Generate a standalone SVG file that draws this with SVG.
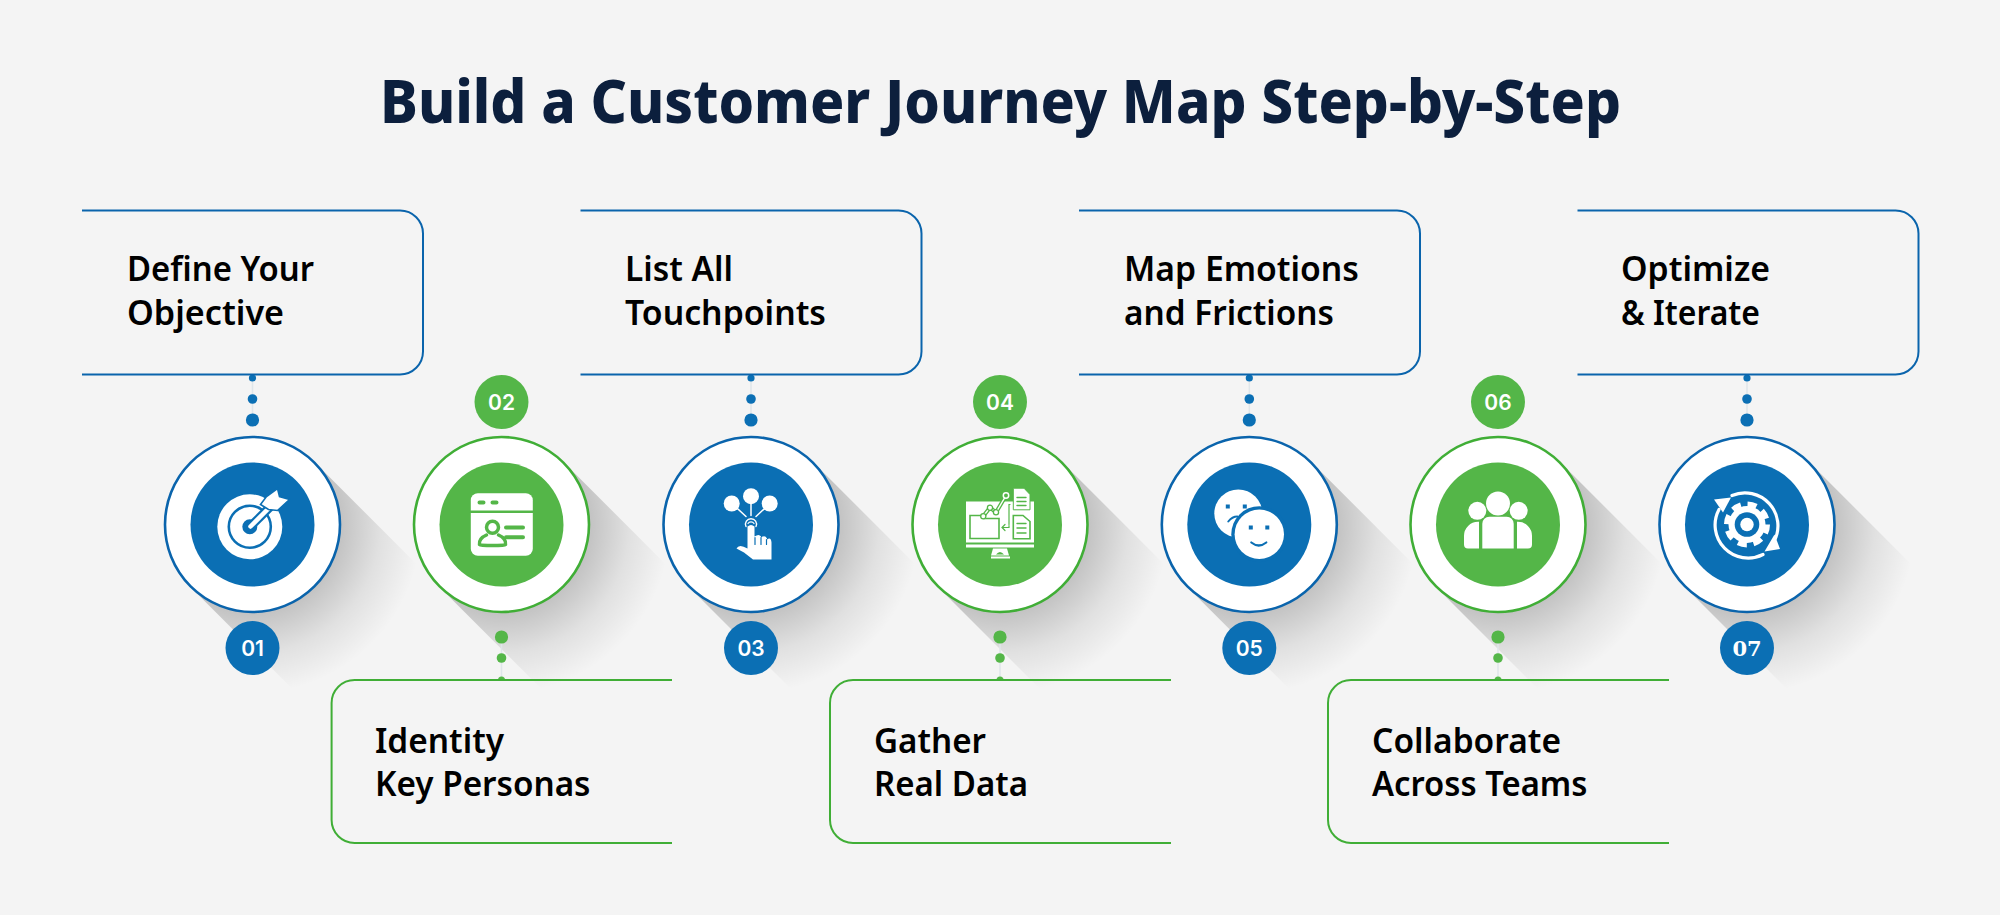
<svg xmlns="http://www.w3.org/2000/svg" xmlns:xlink="http://www.w3.org/1999/xlink" width="2000" height="915" viewBox="0 0 2000 915">
<style>
text{font-family:"Noto Sans","Open Sans","Liberation Sans",sans-serif}
.title{font-size:61px;font-weight:800;fill:#0c1f3d}
.lbl{font-size:34px;font-weight:600;fill:#000}
.num{font-size:21px;font-weight:600;fill:#fff;text-anchor:middle;font-family:"Inter","Noto Sans",sans-serif}
.bb{fill:none;stroke:#0a64ac;stroke-width:2}
.gb{fill:none;stroke:#40ae36;stroke-width:2}
.bo{fill:#fff;stroke:#0a64ac;stroke-width:2.6}
.go{fill:#fff;stroke:#40ae36;stroke-width:2.6}
.bf{fill:#0b6fb4}
.gf{fill:#54b648}
.w{fill:#fff}
.ws{fill:none;stroke:#fff;stroke-linecap:round}
.bs{fill:none;stroke:#0b6fb4;stroke-linecap:round}
.gs{fill:none;stroke:#54b648;stroke-linecap:round}
.lk{stroke:#dfe6ea;stroke-width:1.5}
</style>
<defs>
<radialGradient id="sg" gradientUnits="userSpaceOnUse" cx="0" cy="0" r="178">
<stop offset="0.5" stop-color="#000" stop-opacity="0.2"/>
<stop offset="0.72" stop-color="#000" stop-opacity="0.08"/>
<stop offset="0.95" stop-color="#000" stop-opacity="0"/>
</radialGradient>
<rect id="sh" x="0" y="-88" width="178" height="176" fill="url(#sg)"/>
</defs>
<rect width="2000" height="915" fill="#f4f4f4"/>
<g id="shadows">
<use xlink:href="#sh" href="#sh" transform="translate(252.5 524.5) rotate(45)"/>
<use xlink:href="#sh" href="#sh" transform="translate(501.5 524.5) rotate(45)"/>
<use xlink:href="#sh" href="#sh" transform="translate(751 524.5) rotate(45)"/>
<use xlink:href="#sh" href="#sh" transform="translate(1000 524.5) rotate(45)"/>
<use xlink:href="#sh" href="#sh" transform="translate(1249.3 524.5) rotate(45)"/>
<use xlink:href="#sh" href="#sh" transform="translate(1498 524.5) rotate(45)"/>
<use xlink:href="#sh" href="#sh" transform="translate(1747 524.5) rotate(45)"/>
</g>
<text id="title" class="title" x="380" y="123" textLength="1241" lengthAdjust="spacingAndGlyphs">Build a Customer Journey Map Step-by-Step</text>
<g id="connectors">
<g class="bf">
<line class="lk" x1="252.5" y1="378" x2="252.5" y2="420"/><circle cx="252.5" cy="378" r="3.6"/><circle cx="252.5" cy="399" r="4.8"/><circle cx="252.5" cy="420" r="6.6"/>
<line class="lk" x1="751" y1="378" x2="751" y2="420"/><circle cx="751" cy="378" r="3.6"/><circle cx="751" cy="399" r="4.8"/><circle cx="751" cy="420" r="6.6"/>
<line class="lk" x1="1249.3" y1="378" x2="1249.3" y2="420"/><circle cx="1249.3" cy="378" r="3.6"/><circle cx="1249.3" cy="399" r="4.8"/><circle cx="1249.3" cy="420" r="6.6"/>
<line class="lk" x1="1747" y1="378" x2="1747" y2="420"/><circle cx="1747" cy="378" r="3.6"/><circle cx="1747" cy="399" r="4.8"/><circle cx="1747" cy="420" r="6.6"/>
</g>
<g class="gf">
<line class="lk" x1="501.5" y1="637" x2="501.5" y2="678"/><circle cx="501.5" cy="637" r="6.6"/><circle cx="501.5" cy="658" r="4.8"/><path d="M498 680a3.5 3.5 0 1 1 7 0z"/>
<line class="lk" x1="1000" y1="637" x2="1000" y2="678"/><circle cx="1000" cy="637" r="6.6"/><circle cx="1000" cy="658" r="4.8"/><path d="M996.5 680a3.5 3.5 0 1 1 7 0z"/>
<line class="lk" x1="1498" y1="637" x2="1498" y2="678"/><circle cx="1498" cy="637" r="6.6"/><circle cx="1498" cy="658" r="4.8"/><path d="M1494.5 680a3.5 3.5 0 1 1 7 0z"/>
</g>
</g>

<g id="step1">
<path class="bb" d="M82 210.5H400a23 23 0 0 1 23 23V351.5a23 23 0 0 1-23 23H82"/>
<text class="lbl" x="127" y="281" textLength="187" lengthAdjust="spacingAndGlyphs">Define Your</text>
<text class="lbl" x="127" y="325" textLength="157" lengthAdjust="spacingAndGlyphs">Objective</text>
<circle class="bo" cx="252.5" cy="524.5" r="87.500"/><circle class="bf" cx="252.5" cy="524.5" r="62"/>
<g transform="translate(252.5 524.5)">
<circle class="w" cx="-2.7" cy="2.3" r="32.5"/>
<circle class="bs" cx="-2.7" cy="2.3" r="21" stroke-width="2.6"/>
<circle class="bf" cx="-2.7" cy="2.3" r="7.5"/>
<path class="bs" d="M-2 2L22 -22" stroke-width="9"/>
<path class="ws" d="M-2 2L20 -20" stroke-width="4.5"/>
<path d="M8-20L14-28L25-36L27-28L37-25L25-14L16-15Z" fill="#fff" stroke="#0b6fb4" stroke-width="1.6"/>
</g>
<circle class="bf" cx="252.5" cy="648" r="27"/>
<text class="num" x="252.5" y="655.500">01</text>
</g>

<g id="step2">
<path class="gb" d="M672 680H354.6a23 23 0 0 0-23 23V820a23 23 0 0 0 23 23H672"/>
<text class="lbl" x="375" y="752.5" textLength="129" lengthAdjust="spacingAndGlyphs">Identity</text>
<text class="lbl" x="375" y="796" textLength="215.5" lengthAdjust="spacingAndGlyphs">Key Personas</text>
<circle class="go" cx="501.5" cy="524.5" r="87.500"/><circle class="gf" cx="501.5" cy="524.5" r="62"/>
<g transform="translate(501.5 524.5)">
<rect class="w" x="-30.7" y="-31.3" width="62" height="62.6" rx="7"/>
<path class="gs" d="M-30.7-12.7H31.3" stroke-width="2.4"/>
<path class="gs" d="M-22-22H-18M-9-22H-5M4.5 3H21.5M4.5 12.7H21.5" stroke-width="4"/>
<circle class="gs" cx="-9" cy="2.7" r="6" stroke-width="3.5"/>
<path class="gs" d="M-3 10.5Q5 14 4 20Q3 21 -9 21Q-21 21 -22 20Q-23 14 -15 10.5" stroke-width="3.5"/>
</g>
<circle class="gf" cx="501.5" cy="402" r="27"/>
<text class="num" x="501.5" y="409.500">02</text>
</g>

<g id="step3">
<path class="bb" d="M580.5 210.5H898.5a23 23 0 0 1 23 23V351.5a23 23 0 0 1-23 23H580.5"/>
<text class="lbl" x="625" y="281" textLength="108" lengthAdjust="spacingAndGlyphs">List All</text>
<text class="lbl" x="625" y="325" textLength="201" lengthAdjust="spacingAndGlyphs">Touchpoints</text>
<circle class="bo" cx="751" cy="524.5" r="87.500"/><circle class="bf" cx="751" cy="524.5" r="62"/>
<g transform="translate(751 524.5)">
<circle class="w" cx="-19.3" cy="-21" r="8"/><circle class="w" cx="0" cy="-28.3" r="8"/><circle class="w" cx="18.7" cy="-21" r="8"/>
<path class="ws" d="M-19-21L-5-8M0-28V-9M19-21L5-8" stroke-width="1.5"/>
<path class="ws" d="M-5 2A5.5 5.5 0 1 1 5 2" stroke-width="1.4"/>
<path class="ws" d="M-3-1A3.5 3.5 0 0 1 3-1" stroke-width="1.2"/>
<path class="w" d="M-3.5 2Q0-1 3.5 2V12Q8 9 10 12V13Q14 10 16 14V15Q20 12 20.5 18V35H2L-7 28L-14.5 24Q-12 19-3.5 24Z"/>
<path class="bs" d="M4 13V20M10 13V20M15.500 15V20" stroke-width="1.2"/>
</g>
<circle class="bf" cx="751" cy="648" r="27"/>
<text class="num" x="751" y="655.500">03</text>
</g>

<g id="step4">
<path class="gb" d="M1171 680H853a23 23 0 0 0-23 23V820a23 23 0 0 0 23 23H1171"/>
<text class="lbl" x="874" y="752.5" textLength="112" lengthAdjust="spacingAndGlyphs">Gather</text>
<text class="lbl" x="874" y="796" textLength="154" lengthAdjust="spacingAndGlyphs">Real Data</text>
<circle class="go" cx="1000" cy="524.5" r="87.500"/><circle class="gf" cx="1000" cy="524.5" r="62"/>
<g transform="translate(1000 524.5)">
<rect class="w" x="-34" y="-23" width="68" height="41"/>
<rect class="w" x="-34" y="20" width="68" height="3"/>
<path class="w" d="M-7 24H7L9 31H-9ZM-9 32H10V34H-9Z"/>
<path class="gf" d="M-4 30Q0 25 4 30Z"/>
<path d="M-30-9H-19L-16-6H-1V14H-30Z" fill="#fff" stroke="#54b648" stroke-width="1.6"/>
<path d="M-17-8L-10-17L-4-12L6-29" fill="none" stroke="#54b648" stroke-width="4" stroke-linecap="round" stroke-linejoin="round"/>
<path class="ws" d="M-17-8L-10-17L-4-12L6-29" stroke-width="1.400"/>
<circle cx="-16.700" cy="-8.300" r="2.600" fill="#fff" stroke="#54b648" stroke-width="1.300"/><circle cx="-10" cy="-16.700" r="2.600" fill="#fff" stroke="#54b648" stroke-width="1.300"/><circle cx="-4" cy="-12.300" r="2.600" fill="#fff" stroke="#54b648" stroke-width="1.300"/>
<circle cx="6" cy="-29" r="2.700" fill="#54b648" stroke="#fff" stroke-width="1.500"/>
<path class="gs" d="M10-20H9V0" stroke-width="1.2"/>
<path class="gs" d="M9 1V3H2M5 0L2 3L5 6" stroke-width="1.2"/>
<path d="M13.300-36.300H24L30-30V-14.700H13.300Z" fill="#fff" stroke="#54b648" stroke-width="1"/>
<path class="gs" d="M17-27H26M17-23H26M17-19H26" stroke-width="1.400"/>
<path d="M13.300-9H23L30-3V14.300H13.300Z" fill="#fff" stroke="#54b648" stroke-width="1.600"/>
<path class="gs" d="M17-1H26M17 3.500H26M17 8.500H26" stroke-width="1.400"/>
</g>
<circle class="gf" cx="1000" cy="402" r="27"/>
<text class="num" x="1000" y="409.500">04</text>
</g>

<g id="step5">
<path class="bb" d="M1079 210.5H1397a23 23 0 0 1 23 23V351.5a23 23 0 0 1-23 23H1079"/>
<text class="lbl" x="1124" y="281" textLength="235" lengthAdjust="spacingAndGlyphs">Map Emotions</text>
<text class="lbl" x="1124" y="325" textLength="210" lengthAdjust="spacingAndGlyphs">and Frictions</text>
<circle class="bo" cx="1249.3" cy="524.5" r="87.500"/><circle class="bf" cx="1249.3" cy="524.5" r="62"/>
<g transform="translate(1249.3 524.5)">
<circle class="w" cx="-11" cy="-11" r="24"/>
<circle class="bf" cx="10" cy="9.700" r="28"/>
<circle class="w" cx="10" cy="9.700" r="24.700"/>
<path class="bf" d="M-23.500-20h4v4h-4zM-6.500-20h4v4h-4zM-0.500 1h4v4h-4zM16 1h4v4h-4z"/>
<path class="bs" d="M2 18Q9.500 24 17 18" stroke-width="2.200"/>
<path class="bs" d="M-21-3Q-17-8-12-8" stroke-width="2"/>
</g>
<circle class="bf" cx="1249.3" cy="648" r="27"/>
<text class="num" x="1249.3" y="655.500">05</text>
</g>

<g id="step6">
<path class="gb" d="M1669 680H1351a23 23 0 0 0-23 23V820a23 23 0 0 0 23 23H1669"/>
<text class="lbl" x="1372" y="752.5" textLength="189" lengthAdjust="spacingAndGlyphs">Collaborate</text>
<text class="lbl" x="1372" y="796" textLength="215.5" lengthAdjust="spacingAndGlyphs">Across Teams</text>
<circle class="go" cx="1498" cy="524.5" r="87.500"/><circle class="gf" cx="1498" cy="524.5" r="62"/>
<g transform="translate(1498 524.5)">
<circle class="w" cx="0" cy="-21" r="12"/><circle class="w" cx="-20.700" cy="-13.700" r="9"/><circle class="w" cx="20.700" cy="-13.700" r="9"/>
<path class="w" d="M-15.700-0.700a7 7 0 0 1 7-7H8.700a7 7 0 0 1 7 7V24H-15.700Z"/>
<path class="w" d="M-19-2.700H-20a14 14 0 0 0-14 14V20a4 4 0 0 0 4 4H-19Z"/>
<path class="w" d="M19-2.700H20a14 14 0 0 1 14 14V20a4 4 0 0 1-4 4H19Z"/>
</g>
<circle class="gf" cx="1498" cy="402" r="27"/>
<text class="num" x="1498" y="409.500">06</text>
</g>

<g id="step7">
<path class="bb" d="M1577.500 210.500H1895.500a23 23 0 0 1 23 23V351.500a23 23 0 0 1-23 23H1577.500"/>
<text class="lbl" x="1621" y="281" textLength="149" lengthAdjust="spacingAndGlyphs">Optimize</text>
<text class="lbl" x="1621" y="325" textLength="139" lengthAdjust="spacingAndGlyphs">&amp; Iterate</text>
<circle class="bo" cx="1747" cy="524.5" r="87.500"/><circle class="bf" cx="1747" cy="524.5" r="62"/>
<g transform="translate(1747 524.5)">
<circle class="w" cx="0" cy="0" r="18.500"/>
<circle cx="0" cy="0" r="20" fill="none" stroke="#fff" stroke-width="6" stroke-dasharray="9 6.700"/>
<circle class="bf" cx="0" cy="0" r="12.300"/><circle class="w" cx="0" cy="0" r="6.700"/>
<path class="ws" d="M-15-29A33 33 0 0 1 27 17" stroke-width="3.200" stroke-linecap="butt"/>
<path class="w" d="M17.500 27L33 24.500L27.500 10Z"/>
<path class="ws" d="M16 30A33 33 0 0 1-28-15" stroke-width="3.200" stroke-linecap="butt"/>
<path class="w" d="M-33-25L-16-27L-24-12Z"/>
</g>
<circle class="bf" cx="1747" cy="648" r="27"/>
<text class="num" x="1747" y="655.500" style="font-family:'DejaVu Serif',serif;font-weight:700">07</text>
</g>
</svg>
